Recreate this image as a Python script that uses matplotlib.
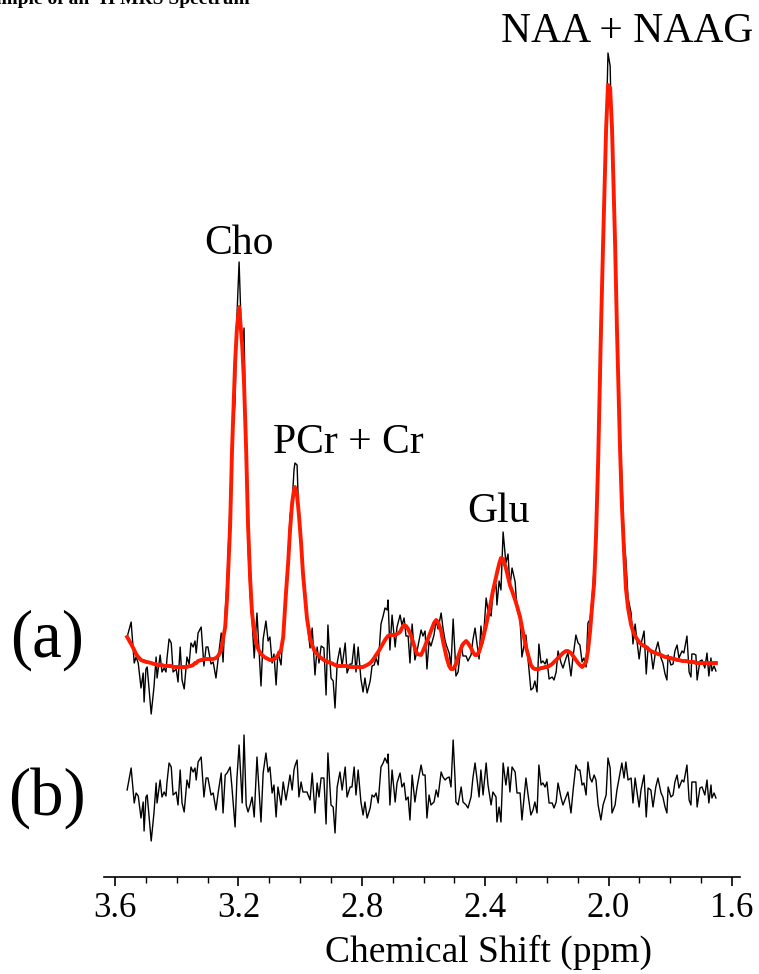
import numpy as np
import matplotlib
matplotlib.use("Agg")
import matplotlib.pyplot as plt

plt.rcParams['font.family'] = ['Liberation Serif', 'DejaVu Serif']

# chemical shift of each sample (ppm)
ppm = [3.561, 3.548, 3.538, 3.532, 3.525, 3.516, 3.509, 3.506, 3.500, 3.496,
       3.483, 3.474, 3.467, 3.464, 3.454, 3.448, 3.441, 3.435, 3.432, 3.425,
       3.418, 3.412, 3.402, 3.396, 3.389, 3.383, 3.376, 3.367, 3.360, 3.354,
       3.347, 3.341, 3.337, 3.331, 3.321, 3.318, 3.312, 3.305, 3.299, 3.289,
       3.282, 3.273, 3.266, 3.256, 3.250, 3.243, 3.237, 3.227, 3.221, 3.211,
       3.205, 3.198, 3.188, 3.182, 3.175, 3.169, 3.162, 3.156, 3.149, 3.140,
       3.133, 3.127, 3.120, 3.111, 3.104, 3.098, 3.091, 3.085, 3.078, 3.072,
       3.062, 3.055, 3.046, 3.039, 3.033, 3.026, 3.020, 3.017, 3.010, 3.004,
       2.997, 2.991, 2.978, 2.968, 2.961, 2.952, 2.945, 2.939, 2.932, 2.923,
       2.916, 2.910, 2.900, 2.893, 2.887, 2.880, 2.871, 2.864, 2.854, 2.848,
       2.838, 2.832, 2.825, 2.819, 2.812, 2.803, 2.796, 2.790, 2.783, 2.773,
       2.767, 2.760, 2.754, 2.747, 2.738, 2.731, 2.725, 2.718, 2.715, 2.709,
       2.702, 2.692, 2.686, 2.676, 2.670, 2.663, 2.657, 2.650, 2.644, 2.637,
       2.628, 2.621, 2.608, 2.602, 2.595, 2.589, 2.582, 2.576, 2.566, 2.559,
       2.553, 2.543, 2.537, 2.530, 2.524, 2.517, 2.511, 2.504, 2.498, 2.495,
       2.488, 2.478, 2.472, 2.462, 2.456, 2.446, 2.440, 2.433, 2.427, 2.420,
       2.414, 2.407, 2.397, 2.391, 2.381, 2.375, 2.365, 2.362, 2.355, 2.349,
       2.342, 2.333, 2.326, 2.320, 2.313, 2.303, 2.297, 2.287, 2.281, 2.268,
       2.261, 2.252, 2.245, 2.239, 2.232, 2.226, 2.219, 2.213, 2.206, 2.200,
       2.193, 2.183, 2.177, 2.170, 2.164, 2.154, 2.148, 2.138, 2.132, 2.122,
       2.115, 2.106, 2.099, 2.093, 2.086, 2.080, 2.073, 2.067, 2.060, 2.054,
       2.047, 2.041, 2.034, 2.025, 2.018, 2.008, 2.002, 1.995, 1.989, 1.979,
       1.973, 1.963, 1.957, 1.950, 1.944, 1.937, 1.927, 1.921, 1.914, 1.908,
       1.901, 1.895, 1.885, 1.878, 1.872, 1.863, 1.856, 1.847, 1.840, 1.830,
       1.824, 1.817, 1.811, 1.807, 1.798, 1.791, 1.785, 1.778, 1.772, 1.762,
       1.756, 1.746, 1.739, 1.733, 1.730, 1.723, 1.717, 1.713, 1.704, 1.697,
       1.688, 1.681, 1.675, 1.668, 1.665, 1.658, 1.652]

# fitted model (red), arbitrary units
fit = [26, 19, 13, 9, 6, 3, 2, 2, 1, 1,
       0, -1, -1, -2, -2, -2, -3, -3, -3, -3,
       -3, -4, -4, -4, -4, -4, -4, -4, -3, -3,
       -2, 0, 0, 2, 3, 3, 4, 4, 4, 4,
       4, 5, 7, 13, 24, 36, 65, 138, 212, 300,
       335, 356, 318, 280, 212, 138, 83, 50, 32, 17,
       12, 9, 7, 5, 4, 3, 3, 4, 5, 8,
       13, 26, 70, 100, 132, 160, 173, 176, 168, 148,
       120, 90, 45, 25, 18, 11, 9, 7, 5, 3,
       2, 1, 0, -1, -2, -3, -3, -3, -3, -3,
       -4, -4, -4, -4, -4, -4, -4, -3, -2, 0,
       2, 5, 8, 11, 16, 20, 23, 26, 27, 28,
       28, 28, 29, 31, 35, 38, 37, 34, 30, 24,
       15, 9, 8, 12, 17, 22, 27, 32, 40, 43,
       41, 32, 22, 12, 4, -3, -6, -6, -3, -1,
       6, 15, 19, 22, 20, 15, 11, 8, 8, 11,
       17, 25, 38, 47, 62, 72, 86, 90, 99, 105,
       104, 95, 86, 78, 72, 63, 57, 46, 36, 16,
       8, -2, -5, -6, -6, -6, -5, -5, -4, -4,
       -3, -1, 1, 3, 5, 8, 10, 12, 12, 10,
       7, 3, 0, -2, -4, -2, 1, 12, 32, 55,
       80, 125, 200, 330, 418, 535, 578, 575, 535, 420,
       335, 215, 158, 112, 75, 55, 38, 32, 27, 24,
       21, 19, 17, 16, 14, 12, 11, 10, 9, 8,
       7, 6, 6, 5, 5, 4, 4, 3, 3, 2,
       2, 2, 1, 1, 1, 1, 0, 0, 0, 0,
       0, 0, 0, 0, 0, 0, 0]

# residual (b) = spectrum - fit, arbitrary units
resid = [0, 22, -13, -3, -6, -28, -12, -41, -7, -5,
         -51, -23, 7, -13, 10, -7, -2, -6, 7, 27,
         23, -5, -2, -15, 20, -13, -22, 10, 2, 23,
         18, 22, 10, 28, 33, 20, -7, 12, 12, -5,
         -3, -20, -3, 17, -23, 15, 17, 23, 2, -37,
         12, 45, -13, 55, -15, -22, -15, -7, -27, 33,
         -2, -32, 17, 37, 18, 23, -3, 5, -27, 3,
         -15, 8, -10, 3, 15, 0, 20, 24, 30, -7,
         8, -2, -2, -10, 17, -23, 7, -7, 12, 12,
         -34, 37, -15, -17, -43, 3, 18, 0, 23, -7,
         3, 3, 23, -5, 20, -12, -25, -12, -28, -18,
         -5, -7, -3, -13, 23, 27, 32, 27, 36, -15,
         20, -12, 7, 17, 3, 7, -10, -7, -30, 15,
         -12, 3, 25, 15, 15, -28, -5, -15, -12, 0,
         -7, 18, 13, 10, 12, 13, 3, 50, 12, -12,
         -15, 3, -12, -15, -18, -7, 12, 27, 12, -7,
         20, -5, 27, 5, -15, -2, -7, -32, -17, -32,
         27, 5, 23, -2, 23, 18, -3, -3, -30, 12,
         -5, -25, -20, -12, -23, 25, 5, 7, 3, 8,
         -13, -13, -18, -12, 7, -8, -15, -7, -2, -23,
         0, 25, 20, 20, 5, 7, -5, 28, 12, 8,
         15, 10, -15, -30, -15, -5, 32, 22, -23, -15,
         0, 17, 27, 12, 28, 10, 12, -13, 12, -2,
         -17, 0, 15, -27, 2, 0, -17, 3, 12, -3,
         -7, -17, -23, 3, -7, -5, 8, 15, 2, 10,
         8, 25, -10, -15, 8, 8, 8, -17, 2, 3,
         -5, 10, -13, 5, -8, -3, -8]

ppm = np.array(ppm)
fit = np.array(fit, dtype=float)
resid = np.array(resid, dtype=float)
spectrum = fit + resid
resid_offset = -127

peak_names = ["Cho", "PCr + Cr", "Glu", "NAA + NAAG"]
peak_ppm = [3.198, 2.844, 2.357, 1.941]
peak_label_y = [409, 210, 141, 621]

fig = plt.figure(figsize=(7.59, 9.74), dpi=100)
ax = fig.add_axes([104 / 759, 97 / 974, 636 / 759, 877 / 974])

ax.plot(ppm, spectrum, color='black', lw=1.0)
ax.plot(ppm, fit, color='#ff1a00', lw=2.8)
ax.plot(ppm, resid + resid_offset, color='black', lw=1.0)

for name, x, y in zip(peak_names, peak_ppm, peak_label_y):
    ax.text(x, y, name, ha='center', va='baseline', fontsize=30)

ax.set_xlim(3.636, 1.574)
ax.set_ylim(-214, 663)
for s in ['left', 'right', 'top']:
    ax.spines[s].set_visible(False)
ax.spines['bottom'].set_linewidth(1.2)
ax.set_yticks([])
ax.set_xticks([3.6, 3.2, 2.8, 2.4, 2.0, 1.6])
ax.set_xticklabels(['3.6', '3.2', '2.8', '2.4', '2.0', '1.6'])
ax.set_xticks(np.arange(1.6, 3.65, 0.1), minor=True)
ax.tick_params(axis='x', which='major', length=6.5, width=1.2, labelsize=25, pad=4)
ax.tick_params(axis='x', which='minor', length=4.5, width=1.0)
ax.set_xlabel('Chemical Shift (ppm)', fontsize=27)
ax.xaxis.label.set_ha('right')
ax.xaxis.label.set_va('baseline')
ax.xaxis.set_label_coords((652 - 104) / 636, -(962 - 877) / 877)

fig.text(47 / 759, 1 - 657 / 974, '(a)', ha='center', va='baseline', fontsize=48)
fig.text(47 / 759, 1 - 815 / 974, '(b)', ha='center', va='baseline', fontsize=48)
fig.text(-31 / 759, 1 - 4 / 974, 'Example of an ¹H MRS Spectrum', ha='left',
         va='baseline', fontsize=14, fontweight='bold')

fig.savefig('out.png', dpi=100)
